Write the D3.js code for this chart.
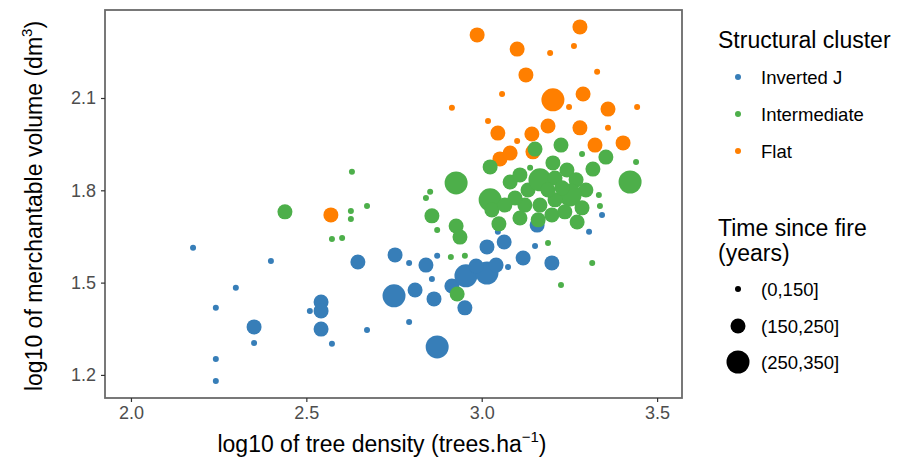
<!DOCTYPE html>
<html><head><meta charset="utf-8">
<script src="https://cdn.jsdelivr.net/npm/d3@7"></script>
<style>body{margin:0;background:#fff;} text{font-family:"Liberation Sans",Arial,sans-serif;}</style>
</head><body><svg id="c" width="923" height="469"></svg>
<script>
const clusterNames = ["Inverted J", "Intermediate", "Flat"];
const fireClasses = ["(0,150]", "(150,250]", "(250,350]"];
const xTicks = [2.0, 2.5, 3.0, 3.5];
const yTicks = [1.2, 1.5, 1.8, 2.1];

// Inverted J: log10 density, log10 volume, time-since-fire class index
const invJ_x = [2.177,2.399,2.299,2.242,2.351,2.351,2.242,2.242,2.542,2.542,2.510,2.542,2.573,2.647,2.673,2.753,2.750,2.793,2.841,2.873,2.858,2.810,2.864,2.793,2.873,2.915,2.952,2.955,3.015,2.984,3.041,3.015,3.064,3.046,3.075,3.118,3.152,3.200,3.306,3.343,3.158];
const invJ_y = [1.613,1.570,1.483,1.418,1.356,1.304,1.252,1.180,1.437,1.408,1.408,1.349,1.301,1.567,1.346,1.590,1.457,1.564,1.557,1.587,1.512,1.476,1.447,1.372,1.291,1.489,1.418,1.522,1.531,1.554,1.557,1.616,1.632,1.665,1.551,1.580,1.619,1.564,1.665,1.720,1.687];
const invJ_t = [0,0,0,0,1,0,0,0,1,1,0,1,0,1,0,1,2,0,1,0,0,1,1,0,2,1,1,2,2,1,1,1,1,0,0,1,0,1,0,0,1];

const inter_x = [2.439,2.673,2.627,2.627,2.573,2.602,2.630,2.853,2.841,2.927,2.858,2.873,2.927,2.938,2.912,2.952,2.930,3.024,3.024,3.081,3.029,3.049,3.152,3.226,3.286,3.354,3.317,3.440,3.423,3.334,3.337,3.272,3.189,3.315,3.226,3.203,3.109,3.132,3.166,3.209,3.243,3.269,3.297,3.252,3.209,3.166,3.123,3.095,3.109,3.161,3.200,3.237,3.286,3.189,3.229,3.138,3.066];
const inter_y = [1.730,1.749,1.707,1.733,1.642,1.645,1.860,1.795,1.775,1.824,1.717,1.671,1.684,1.648,1.583,1.587,1.463,1.876,1.769,1.827,1.736,1.691,1.934,1.947,1.918,1.908,1.869,1.892,1.827,1.785,1.749,1.697,1.629,1.564,1.492,1.889,1.850,1.801,1.834,1.840,1.866,1.834,1.801,1.785,1.769,1.752,1.752,1.775,1.710,1.704,1.720,1.730,1.743,1.801,1.808,1.873,1.752];
const inter_t = [1,0,0,0,0,0,0,0,0,2,1,0,1,1,0,0,1,1,2,1,1,1,1,1,0,1,1,0,2,0,0,1,0,0,0,1,1,1,2,1,1,1,1,2,1,1,1,1,1,1,1,1,1,1,1,0,1];

const flat_x = [2.987,3.280,3.101,3.195,3.263,3.126,3.329,3.058,3.203,3.289,2.915,3.360,3.443,3.249,3.018,3.046,3.189,3.280,3.360,3.143,3.101,3.323,3.403,3.052,3.081,3.146,2.570];
const flat_y = [2.305,2.331,2.259,2.246,2.269,2.175,2.185,2.113,2.094,2.113,2.068,2.064,2.071,2.071,2.025,1.986,2.009,2.003,2.003,1.983,1.960,1.947,1.954,1.902,1.921,1.925,1.720];
const flat_t = [1,1,1,0,0,1,0,0,2,1,0,1,0,0,0,1,1,1,0,1,0,1,1,1,1,1,1];

const colors = ["#377EB8", "#4DAF4A", "#FF7F00"];
const radii = [3, 7.5, 11.5];

const svg = d3.select("#c");
const P = {l:105, t:10, r:682, b:398};
const x = d3.scaleLinear().domain([1.926, 3.571]).range([P.l, P.r]);
const y = d3.scaleLinear().domain([1.125, 2.386]).range([P.b, P.t]);
const col = d3.scaleOrdinal().domain(clusterNames).range(colors);
const rad = d3.scaleOrdinal().domain(fireClasses).range(radii);

const series = [
  {name:"Inverted J", xs:invJ_x, ys:invJ_y, ts:invJ_t},
  {name:"Flat", xs:flat_x, ys:flat_y, ts:flat_t},
  {name:"Intermediate", xs:inter_x, ys:inter_y, ts:inter_t}
];

const g = svg.append("g");
series.forEach(s => {
  const data = s.xs.map((v,i)=>({x:v, y:s.ys[i], t:fireClasses[s.ts[i]]}));
  g.selectAll(null).data(data).enter().append("circle")
    .attr("cx", d=>x(d.x)).attr("cy", d=>y(d.y)).attr("r", d=>rad(d.t))
    .attr("fill", col(s.name));
});

// panel border
svg.append("rect").attr("x",P.l).attr("y",P.t).attr("width",P.r-P.l).attr("height",P.b-P.t)
  .attr("fill","none").attr("stroke","#6a6a6a").attr("stroke-width",1.8);

const xa = svg.append("g").attr("transform",`translate(0,${P.b})`)
  .call(d3.axisBottom(x).tickValues(xTicks).tickFormat(d3.format(".1f")).tickSize(4).tickPadding(4));
const ya = svg.append("g").attr("transform",`translate(${P.l},0)`)
  .call(d3.axisLeft(y).tickValues(yTicks).tickFormat(d3.format(".1f")).tickSize(4).tickPadding(5));
[xa,ya].forEach(a=>{
  a.select(".domain").remove();
  a.selectAll(".tick line").attr("stroke","#333").attr("stroke-width",1.2);
  a.selectAll(".tick text").attr("fill","#4D4D4D").style("font-size","18px").style("font-family","'Liberation Sans',Arial,sans-serif");
});

// axis titles
const xt = svg.append("text").attr("x",382).attr("y",452).attr("text-anchor","middle")
  .style("font-size","23px").attr("fill","#000");
xt.append("tspan").text("log10 of tree density (trees.ha");
xt.append("tspan").text("\u22121").attr("dy",-10).style("font-size","15px");
xt.append("tspan").text(")").attr("dy",10);

const yt = svg.append("text").attr("transform",`translate(42,${(P.t+P.b)/2+2}) rotate(-90)`).attr("text-anchor","middle")
  .style("font-size","23px").attr("fill","#000");
yt.append("tspan").text("log10 of merchantable volume (dm");
yt.append("tspan").text("3").attr("dy",-10).style("font-size","15px");
yt.append("tspan").text(")").attr("dy",10);

// legends
const L = svg.append("g");
L.append("text").attr("x",718).attr("y",48).text("Structural cluster").style("font-size","23px");
clusterNames.forEach((n,i)=>{
  const yy = [77,114,151][i];
  L.append("circle").attr("cx",738).attr("cy",yy).attr("r",3).attr("fill",col(n));
  L.append("text").attr("x",761).attr("y",yy+6.5).text(n).style("font-size","18.5px");
});
L.append("text").attr("x",718).attr("y",236).text("Time since fire").style("font-size","23px");
L.append("text").attr("x",718).attr("y",261).text("(years)").style("font-size","23px");
fireClasses.forEach((n,i)=>{
  const yy = [289,326,362][i];
  L.append("circle").attr("cx",738).attr("cy",yy).attr("r",rad(n)).attr("fill","#000");
  L.append("text").attr("x",761).attr("y",yy+6.5).text(n).style("font-size","18.5px");
});
</script></body></html>
